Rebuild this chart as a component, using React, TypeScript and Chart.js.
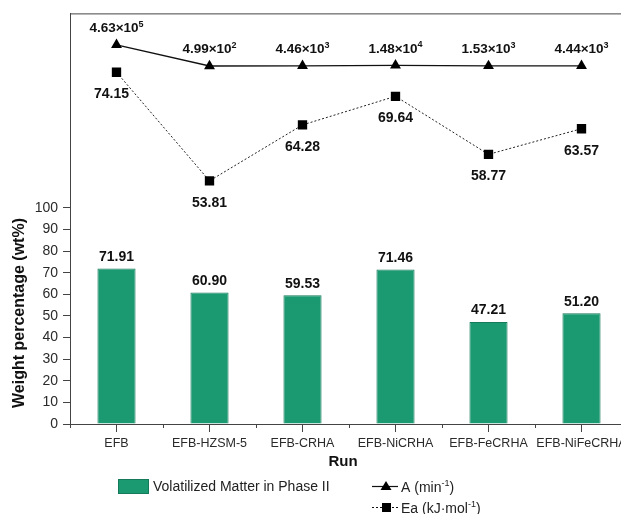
import React, { useEffect, useRef } from "react";
import { Chart, registerables } from "chart.js";

Chart.register(...registerables);

const categories = ["EFB", "EFB-HZSM-5", "EFB-CRHA", "EFB-NiCRHA", "EFB-FeCRHA", "EFB-NiFeCRHA"];
const volatilized = [71.91, 60.9, 59.53, 71.46, 47.21, 51.2];
const aValues = [4.63e5, 4.99e2, 4.46e3, 1.48e4, 1.53e3, 4.44e3];
const aMantissa = ["4.63", "4.99", "4.46", "1.48", "1.53", "4.44"];
const aExponent = ["5", "2", "3", "4", "3", "3"];
const eaValues = [74.15, 53.81, 64.28, 69.64, 58.77, 63.57];
const yTickValues = [0, 10, 20, 30, 40, 50, 60, 70, 80, 90, 100];

const BAR_COLOR = "#1b9a72";
const FONT = "Arial, 'Liberation Sans', Helvetica, sans-serif";

type Part = { t: string; sup?: boolean };

function drawRich(ctx: CanvasRenderingContext2D, parts: Part[], x: number, y: number, size: number, bold: boolean, align: "left" | "center") {
  const w = bold ? "bold " : "";
  const mainFont = `${w}${size}px ${FONT}`;
  const supFont = `${w}${Math.round(size * 0.65)}px ${FONT}`;
  let total = 0;
  for (const p of parts) {
    ctx.font = p.sup ? supFont : mainFont;
    total += ctx.measureText(p.t).width;
  }
  let cx = align === "center" ? x - total / 2 : x;
  ctx.textAlign = "left";
  ctx.textBaseline = "alphabetic";
  for (const p of parts) {
    ctx.font = p.sup ? supFont : mainFont;
    ctx.fillText(p.t, cx, p.sup ? y - size * 0.42 : y);
    cx += ctx.measureText(p.t).width;
  }
}

const decorPlugin = {
  id: "decor",
  afterDraw(chart: any) {
    const ctx: CanvasRenderingContext2D = chart.ctx;
    const area = chart.chartArea;
    const xs = chart.scales.x;
    ctx.save();
    // top frame line
    ctx.strokeStyle = "#444";
    ctx.lineWidth = 1;
    ctx.beginPath();
    ctx.moveTo(area.left, area.top + 0.5);
    ctx.lineTo(area.right, area.top + 0.5);
    ctx.stroke();
    // x axis extension and minor ticks at category boundaries
    ctx.beginPath();
    ctx.moveTo(area.left - 7, area.bottom + 0.5);
    ctx.lineTo(area.left, area.bottom + 0.5);
    for (let i = 0; i <= categories.length; i++) {
      const px = Math.round(xs.getPixelForValue(i - 0.5)) + 0.5;
      ctx.moveTo(px, area.bottom);
      ctx.lineTo(px, area.bottom + 4);
    }
    ctx.stroke();

    ctx.fillStyle = "#111";
    // bar labels
    const barMeta = chart.getDatasetMeta(0);
    barMeta.data.forEach((el: any, i: number) => {
      ctx.font = `bold 14px ${FONT}`;
      ctx.textAlign = "center";
      ctx.textBaseline = "alphabetic";
      ctx.fillText(volatilized[i].toFixed(2), el.x, el.y - 7.5);
    });
    // A labels
    const aMeta = chart.getDatasetMeta(1);
    aMeta.data.forEach((el: any, i: number) => {
      drawRich(ctx, [{ t: aMantissa[i] + "×10" }, { t: aExponent[i], sup: true }], el.x, el.y - 12.5, 13.5, true, "center");
    });
    // Ea labels
    const eMeta = chart.getDatasetMeta(2);
    eMeta.data.forEach((el: any, i: number) => {
      ctx.font = `bold 14px ${FONT}`;
      ctx.textAlign = "center";
      ctx.textBaseline = "alphabetic";
      const dx = i === 0 ? -5 : 0;
      ctx.fillText(eaValues[i].toFixed(2), el.x + dx, el.y + 26);
    });

    // y-axis title
    ctx.save();
    ctx.translate(20, 313);
    ctx.rotate(-Math.PI / 2);
    ctx.font = `bold 16px ${FONT}`;
    ctx.textAlign = "center";
    ctx.textBaseline = "middle";
    ctx.fillStyle = "#111";
    ctx.fillText("Weight percentage (wt%)", 0, 0);
    ctx.restore();

    // x-axis title
    ctx.font = `bold 15px ${FONT}`;
    ctx.textAlign = "center";
    ctx.textBaseline = "alphabetic";
    ctx.fillStyle = "#111";
    ctx.fillText("Run", 343, 466);

    // legend
    ctx.fillStyle = BAR_COLOR;
    ctx.fillRect(118, 479, 31, 15);
    ctx.strokeStyle = "#147a5a";
    ctx.strokeRect(118.5, 479.5, 30, 14);
    ctx.fillStyle = "#222";
    ctx.font = `14px ${FONT}`;
    ctx.textAlign = "left";
    ctx.textBaseline = "middle";
    ctx.fillText("Volatilized Matter in Phase II", 153, 487);

    ctx.strokeStyle = "#111";
    ctx.lineWidth = 1.2;
    ctx.beginPath();
    ctx.moveTo(372, 486.5);
    ctx.lineTo(398, 486.5);
    ctx.stroke();
    ctx.fillStyle = "#000";
    ctx.beginPath();
    ctx.moveTo(386, 481);
    ctx.lineTo(391.5, 490);
    ctx.lineTo(380.5, 490);
    ctx.closePath();
    ctx.fill();
    ctx.fillStyle = "#222";
    drawRich(ctx, [{ t: "A (min" }, { t: "-1", sup: true }, { t: ")" }], 401, 492, 14, false, "left");

    ctx.lineWidth = 1;
    ctx.setLineDash([2, 2]);
    ctx.beginPath();
    ctx.moveTo(372, 507.5);
    ctx.lineTo(398, 507.5);
    ctx.stroke();
    ctx.setLineDash([]);
    ctx.fillStyle = "#000";
    ctx.fillRect(382, 503, 9, 9);
    ctx.fillStyle = "#222";
    drawRich(ctx, [{ t: "Ea (kJ·mol" }, { t: "-1", sup: true }, { t: ")" }], 401, 513, 14, false, "left");
    ctx.restore();
  },
};

export default function App() {
  const ref = useRef<HTMLCanvasElement | null>(null);
  useEffect(() => {
    if (!ref.current) return;
    const chart = new Chart(ref.current, {
      type: "bar",
      data: {
        labels: categories,
        datasets: [
          {
            type: "bar",
            label: "Volatilized Matter in Phase II",
            data: volatilized,
            backgroundColor: BAR_COLOR,
            borderColor: "#147a5a",
            borderWidth: 1,
            barPercentage: 0.82,
            categoryPercentage: 0.5,
            yAxisID: "y",
            order: 3,
          },
          {
            type: "line",
            label: "A (min-1)",
            data: aValues,
            borderColor: "#111",
            borderWidth: 1.3,
            pointStyle: "triangle",
            pointRadius: 6.3,
            pointBackgroundColor: "#000",
            pointBorderColor: "#000",
            pointBorderWidth: 0,
            yAxisID: "yA",
            order: 1,
          },
          {
            type: "line",
            label: "Ea (kJ·mol-1)",
            data: eaValues,
            borderColor: "#222",
            borderWidth: 1,
            borderDash: [2, 2],
            pointStyle: "rect",
            pointRadius: 6.6,
            pointBackgroundColor: "#000",
            pointBorderColor: "#000",
            pointBorderWidth: 0,
            yAxisID: "yE",
            order: 2,
          },
        ],
      },
      options: {
        responsive: false,
        animation: false,
        events: [],
        layout: { padding: { top: 12, right: 12, left: 0, bottom: 0 } },
        plugins: { legend: { display: false }, tooltip: { enabled: false }, title: { display: false } },
        scales: {
          x: {
            type: "category",
            offset: true,
            grid: { offset: false, drawOnChartArea: false, tickLength: 8, color: "#444", tickWidth: 1 },
            border: { display: true, color: "#444", width: 1 },
            ticks: { color: "#2a2a2a", font: { family: FONT, size: 12.5 }, padding: 4, maxRotation: 0, autoSkip: false },
            afterFit: (s: any) => {
              s.height = 90;
            },
          },
          y: {
            type: "linear",
            position: "left",
            min: 0,
            max: 190,
            afterBuildTicks: (s: any) => {
              s.ticks = yTickValues.map((v) => ({ value: v }));
            },
            grid: { drawOnChartArea: false, tickLength: 7, color: "#444" },
            border: { display: true, color: "#444", width: 1 },
            ticks: { color: "#2a2a2a", font: { family: FONT, size: 14 }, padding: 5 },
            afterFit: (s: any) => {
              s.width = 70;
            },
          },
          yA: {
            type: "linear",
            display: false,
            min: -7843000,
            max: 1152900,
          },
          yE: {
            type: "linear",
            display: false,
            min: 8.29,
            max: 85.16,
          },
        },
      },
      plugins: [decorPlugin],
    } as any);
    return () => chart.destroy();
  }, []);
  return (
    <div style={{ position: "fixed", left: 0, top: 0, width: 621, height: 514, overflow: "hidden", background: "#fff" }}>
      <canvas ref={ref} width={640} height={514} style={{ display: "block" }} />
    </div>
  );
}
